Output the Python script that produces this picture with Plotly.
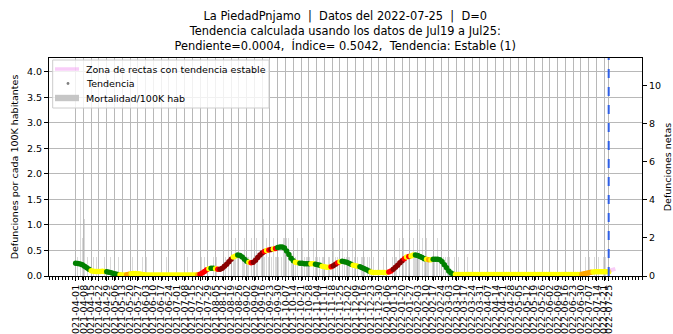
import pandas as pd
import plotly.graph_objects as go

# ---------------------------------------------------------------------------
# Datos
# ---------------------------------------------------------------------------
POBLACION = 268600          # habitantes de la zona
INICIO = "2021-04-01"
FECHA_CORTE = "2022-07-25"

# Defunciones diarias (un dígito por día, semanas de 7 días desde 2021-04-01)
DEFUNCIONES = "".join([
    "0010402", "0300100", "0010010", "1000010", "0001000", "0000100", "0000000",
    "0010000", "0000100", "0100000", "0000000", "0000010", "0000000", "0000000",
    "0001000", "0000000", "0100100", "1010010", "0100100", "1010041", "2011201",
    "1201120", "0110201", "1021011", "0310201", "4102011", "2131022", "1202311",
    "1010201", "0201011", "1100201", "0101011", "1000110", "0201010", "1020101",
    "0110201", "1010011", "0100101", "0010000", "0000100", "1000010", "0110020",
    "1201101", "2102111", "1130201", "0211011", "1101201", "1010101", "0100010",
    "0010000", "0001000", "0000000", "0000000", "0000000", "0000000", "0000000",
    "0000000", "0000000", "0000000", "0000000", "0000000", "0000000", "0000000",
    "0000000", "0000000", "0000100", "0100010", "0010001", "01000",
])

# Tendencia (cada 2 días desde 2021-04-01), por cada 100K habitantes
TENDENCIA = [
    0.25, 0.245, 0.235, 0.22, 0.19, 0.16, 0.13, 0.105, 0.095, 0.09,
    0.09, 0.09, 0.095, 0.09, 0.085, 0.075, 0.065, 0.05, 0.04, 0.03,
    0.025, 0.02, 0.02, 0.025, 0.035, 0.045, 0.05, 0.05, 0.045, 0.04,
    0.03, 0.025, 0.02, 0.02, 0.02, 0.02, 0.02, 0.02, 0.02, 0.02,
    0.02, 0.02, 0.02, 0.02, 0.02, 0.02, 0.02, 0.02, 0.02, 0.02,
    0.02, 0.02, 0.02, 0.02, 0.02, 0.025, 0.035, 0.06, 0.09, 0.12,
    0.14, 0.15, 0.15, 0.14, 0.13, 0.13, 0.15, 0.19, 0.23, 0.28,
    0.33, 0.37, 0.39, 0.41, 0.40, 0.37, 0.33, 0.29, 0.27, 0.26,
    0.27, 0.31, 0.36, 0.41, 0.45, 0.48, 0.50, 0.51, 0.52, 0.53,
    0.54, 0.56, 0.57, 0.57, 0.55, 0.49, 0.42, 0.35, 0.30, 0.27,
    0.26, 0.25, 0.25, 0.24, 0.24, 0.24, 0.24, 0.24, 0.23, 0.22,
    0.21, 0.19, 0.18, 0.17, 0.17, 0.18, 0.20, 0.23, 0.26, 0.28,
    0.29, 0.28, 0.27, 0.25, 0.23, 0.21, 0.20, 0.19, 0.18, 0.16,
    0.14, 0.12, 0.10, 0.08, 0.07, 0.07, 0.07, 0.07, 0.07, 0.07,
    0.07, 0.08, 0.10, 0.13, 0.17, 0.21, 0.26, 0.30, 0.34, 0.37,
    0.38, 0.39, 0.41, 0.41, 0.40, 0.38, 0.36, 0.34, 0.33, 0.32,
    0.32, 0.33, 0.33, 0.33, 0.32, 0.28, 0.22, 0.16, 0.10, 0.06,
    0.035, 0.03, 0.03, 0.03, 0.03, 0.03, 0.03, 0.03, 0.03, 0.03,
    0.03, 0.03, 0.03, 0.03, 0.03, 0.03, 0.03, 0.03, 0.03, 0.03,
    0.03, 0.03, 0.03, 0.03, 0.03, 0.03, 0.03, 0.03, 0.03, 0.03,
    0.03, 0.03, 0.03, 0.03, 0.03, 0.03, 0.03, 0.03, 0.03, 0.03,
    0.03, 0.03, 0.03, 0.03, 0.03, 0.03, 0.03, 0.03, 0.03, 0.03,
    0.03, 0.03, 0.03, 0.03, 0.03, 0.03, 0.03, 0.03, 0.035, 0.045,
    0.055, 0.065, 0.075, 0.08, 0.085, 0.085, 0.085, 0.085, 0.085, 0.085,
    0.085,
]

# Clasificación de la tendencia en cada punto
# G=estable-baja, Y=estable, O=ligero ascenso, R=ascenso, D=ascenso fuerte
CLASE_TENDENCIA = (
    "GGGGGGGYYY" "YYYYGGGGGG" "YYYOOYYYYY" "YYYYYYYYYY" "YYYYYYYYYY"
    "YYYYYORRRR" "YGGYRDDDDD" "DYYGGGGGYR" "DDDDDRYRDY" "RGGGGGGGGY"
    "YGGGGGYYGG" "GYYYYRDDRY" "GGGGGYYYGG" "GGGYYYYYYY" "YRRDDDDDRY"
    "RYYGGGGGYO" "YGGGGGGGGG" "GYYYYYYYYY" "YYYYYYYYYY" "YYYYYYYYYY"
    "YYYYYYYYYY" "YYYYYYYYYY" "YYYYYYYYOO" "OOOYYYYYYY" "Y"
)
COLORES_CLASE = {"G": "#008000", "Y": "#ffff00", "O": "#ffa500",
                 "R": "#ff0000", "D": "#8b0000"}

# Rectas con tendencia estable a partir del último dato
ZONA_X = ["2022-07-25", "2022-07-31"]
ZONA_Y = [0.10, 0.14]

LEYENDA = ["Zona de rectas con tendencia estable", "Tendencia", "Mortalidad/100K hab"]

# ---------------------------------------------------------------------------
fechas = pd.date_range(INICIO, periods=len(DEFUNCIONES), freq="D")
defunciones = [int(c) for c in DEFUNCIONES]
mortalidad = [d * 100000 / POBLACION for d in defunciones]

fechas_tend = pd.date_range(INICIO, periods=len(TENDENCIA), freq="2D")
colores_tend = [COLORES_CLASE[c] for c in CLASE_TENDENCIA]

etiquetas = list(pd.date_range(INICIO, "2022-07-21", freq="7D")) + [pd.Timestamp(FECHA_CORTE)]
texto_etiquetas = [f.strftime("%Y-%m-%d") for f in etiquetas]

FUENTE = "DejaVu Sans"
TAM = 9.5
COLOR_BARRA = "rgba(170,170,170,0.45)"
COLOR_ZONA = "rgba(238,130,238,0.4)"

fig = go.Figure()

fig.add_trace(go.Bar(
    x=fechas, y=mortalidad, name=LEYENDA[2],
    marker=dict(color=COLOR_BARRA, line=dict(width=0)),
    width=86400000 * 0.85,
))

# eje derecho: defunciones netas
fig.add_trace(go.Scatter(
    x=fechas, y=defunciones, yaxis="y2", mode="markers",
    marker=dict(size=1, opacity=0), hoverinfo="skip",
))

fig.add_trace(go.Scatter(
    x=fechas_tend, y=TENDENCIA, mode="markers", name=LEYENDA[1],
    marker=dict(color=colores_tend, size=5.5, line=dict(width=0)),
))

fig.add_trace(go.Scatter(
    x=ZONA_X, y=ZONA_Y, mode="lines", name=LEYENDA[0],
    line=dict(color=COLOR_ZONA, width=4),
))

fig.add_shape(type="line", xref="x", yref="paper",
              x0=FECHA_CORTE, x1=FECHA_CORTE, y0=0, y1=1,
              line=dict(color="#2f5fe6", width=2, dash="dash"))

# --- leyenda (caja en la esquina superior izquierda del área de trazado) ---
PX_W, PX_H = 593.0, 218.0   # tamaño del área de trazado en píxeles


def px(dx):
    return dx / PX_W


def py(dy):
    return dy / PX_H


caja_x0, caja_x1 = px(3.7), px(220)
caja_y1, caja_y0 = 1 - py(2), 1 - py(50)
fig.add_shape(type="rect", xref="paper", yref="paper",
              x0=caja_x0, x1=caja_x1, y0=caja_y0, y1=caja_y1,
              fillcolor="rgba(255,255,255,0.8)", line=dict(color="#cccccc", width=1),
              layer="above")

filas = [1 - py(11), 1 - py(25.5), 1 - py(40)]
sx0, sx1 = px(6), px(30)
fig.add_shape(type="line", xref="paper", yref="paper",
              x0=sx0, x1=sx1, y0=filas[0], y1=filas[0],
              line=dict(color=COLOR_ZONA, width=3.5), layer="above")
cx, cy, r = px(19), filas[1], 1.4
fig.add_shape(type="circle", xref="paper", yref="paper",
              x0=cx - px(r), x1=cx + px(r), y0=cy - py(r), y1=cy + py(r),
              fillcolor="grey", line=dict(width=0), layer="above")
fig.add_shape(type="rect", xref="paper", yref="paper",
              x0=sx0, x1=sx1, y0=filas[2] - py(3.2), y1=filas[2] + py(3.2),
              fillcolor="#c6c6c6", line=dict(width=0), layer="above")
for texto, yy in zip(LEYENDA, filas):
    fig.add_annotation(x=px(35), y=yy, xref="paper", yref="paper",
                       text=texto, showarrow=False, xanchor="left", yanchor="middle",
                       font=dict(family=FUENTE, size=TAM, color="black"))

fig.update_layout(
    width=673, height=334,
    margin=dict(l=49, r=31, t=58, b=58),
    paper_bgcolor="white", plot_bgcolor="white",
    font=dict(family=FUENTE, size=TAM, color="black"),
    title=dict(
        text=("La PiedadPnjamo  |  Datos del 2022-07-25  |  D=0<br>"
              "Tendencia calculada usando los datos de Jul19 a Jul25:<br>"
              "Pendiente=0.0004,  Índice= 0.5042,  Tendencia: Estable (1)"),
        x=0.513, xanchor="center", y=0.94, yanchor="top",
        font=dict(family=FUENTE, size=11.4, color="black"),
    ),
    showlegend=False,
    bargap=0,
    xaxis=dict(
        type="date", range=["2021-03-08", "2022-08-24"], automargin=False,
        tickmode="array", tickvals=etiquetas, ticktext=texto_etiquetas,
        tickangle=-90, tickfont=dict(size=TAM),
        ticks="outside", ticklen=4, tickcolor="black",
        showgrid=True, gridcolor="#b8b8b8", gridwidth=1,
        showline=True, linecolor="black", linewidth=1, mirror=True,
        minor=dict(ticks="outside", ticklen=3, tickcolor="black",
                   dtick=3 * 86400000, tick0="2021-03-08", showgrid=False),
        zeroline=False,
    ),
    yaxis=dict(
        range=[0, 4.27], tickmode="array", automargin=False,
        tickvals=[0, 0.5, 1, 1.5, 2, 2.5, 3, 3.5, 4],
        ticktext=["0.0", "0.5", "1.0", "1.5", "2.0", "2.5", "3.0", "3.5", "4.0"],
        ticks="outside", ticklen=4, tickcolor="black",
        showgrid=True, gridcolor="#b8b8b8", gridwidth=1,
        showline=True, linecolor="black", linewidth=1, mirror=True,
        zeroline=False,
        title=dict(text="Defunciones por cada 100K habitantes",
                   font=dict(size=TAM), standoff=6),
    ),
    yaxis2=dict(
        overlaying="y", side="right", range=[0, 11.47], automargin=False,
        tickvals=[0, 2, 4, 6, 8, 10],
        ticks="outside", ticklen=4, tickcolor="black",
        showgrid=False, zeroline=False, showline=True, linecolor="black",
        title=dict(text="Defunciones netas", font=dict(size=TAM), standoff=4),
    ),
)

fig.write_html("out.html")
